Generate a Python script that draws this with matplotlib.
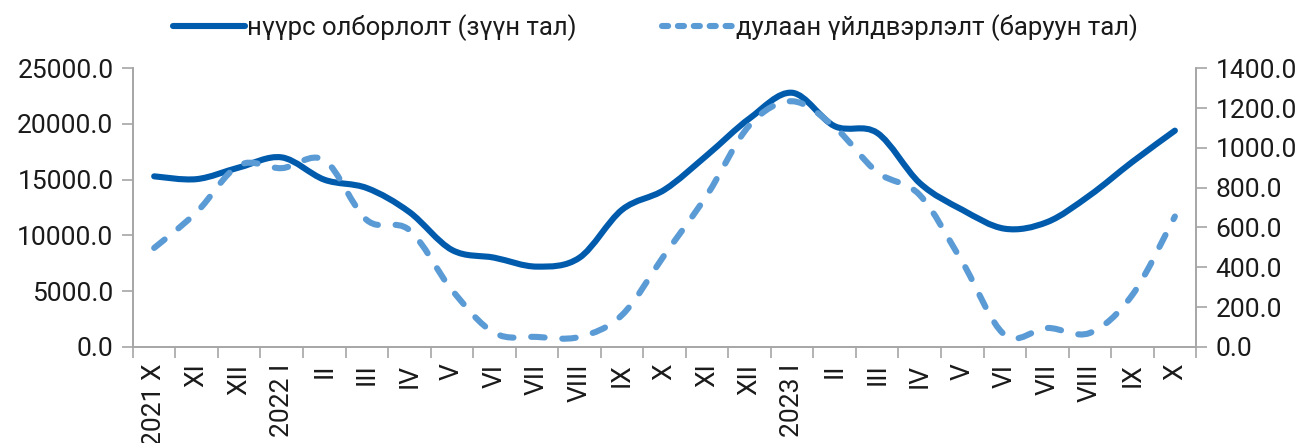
import matplotlib
matplotlib.use("Agg")
import matplotlib.pyplot as plt
import numpy as np
from matplotlib.path import Path
from matplotlib.patches import PathPatch
from matplotlib.lines import Line2D

plt.rcParams['font.family'] = ['Roboto', 'DejaVu Sans']

categories = ["2021 X", "XI", "XII", "2022 I", "II", "III", "IV", "V", "VI", "VII", "VIII",
              "IX", "X", "XI", "XII", "2023 I", "II", "III", "IV", "V", "VI", "VII", "VIII", "IX", "X"]
coal = [15300, 15050, 16100, 17000, 15000, 14250, 12100, 8700, 8000, 7200, 8000,
        12300, 14100, 17200, 20500, 22800, 19800, 19200, 14700, 12300, 10600, 11200, 13600, 16600, 19400]
heat = [497, 677, 913, 898, 938, 637, 587, 286, 70, 50, 50,
        160, 462, 763, 1114, 1234, 1104, 878, 763, 427, 60, 95, 70, 261, 655]
coal_label = "нүүрс олборлолт (зүүн тал)"
heat_label = "дулаан үйлдвэрлэлт (баруун тал)"

c_solid = "#005BAC"
c_dash = "#5B9BD5"
spine_c = "#A6A6A6"
txt_c = "#1a1a1a"
fs = 19
lw = 4.4


def smooth_path(x, y, t=1/6):
    x = np.asarray(x, float); y = np.asarray(y, float)
    verts = [(x[0], y[0])]
    codes = [Path.MOVETO]
    n = len(x)
    for i in range(n - 1):
        p0 = (x[i-1], y[i-1]) if i > 0 else (x[i], y[i])
        p1 = (x[i], y[i]); p2 = (x[i+1], y[i+1])
        p3 = (x[i+2], y[i+2]) if i + 2 < n else (x[i+1], y[i+1])
        c1 = (p1[0] + (p2[0]-p0[0])*t, p1[1] + (p2[1]-p0[1])*t)
        c2 = (p2[0] - (p3[0]-p1[0])*t, p2[1] - (p3[1]-p1[1])*t)
        verts += [c1, c2, p2]
        codes += [Path.CURVE4]*3
    return Path(verts, codes)


fig = plt.figure(figsize=(13.03, 4.43), dpi=100)
ax = fig.add_axes([0.102, 0.217, 0.816, 0.629])
ax2 = ax.twinx()

xs = np.arange(len(categories))
ax.add_patch(PathPatch(smooth_path(xs, coal), fill=False, edgecolor=c_solid, lw=lw,
                       capstyle='round', joinstyle='round'))
pp = PathPatch(smooth_path(xs, heat), fill=False, edgecolor=c_dash, lw=lw,
               linestyle=(0, (2.2, 2.9)), capstyle='round', joinstyle='round')
ax2.add_patch(pp)

ax.set_xlim(-0.5, len(categories) - 0.5)
ax.set_ylim(0, 25000)
ax2.set_ylim(0, 1400)
ax.set_yticks(np.arange(0, 25001, 5000))
ax.set_yticklabels([f"{v:.1f}" for v in np.arange(0, 25001, 5000)])
ax2.set_yticks(np.arange(0, 1401, 200))
ax2.set_yticklabels([f"{v:.1f}" for v in np.arange(0, 1401, 200)])

ax.set_xticks(xs)
ax.set_xticklabels(categories, rotation=90, va='top', ha='center')
ax.set_xticks(np.arange(-0.5, len(categories)), minor=True)
ax.tick_params(axis='x', which='major', length=0, labelsize=fs, pad=12, colors=txt_c)
ax.tick_params(axis='x', which='minor', length=8, color=spine_c, width=1.2)
ax.tick_params(axis='y', length=8, color=spine_c, width=1.2, labelsize=fs, pad=6, labelcolor=txt_c)
ax2.tick_params(axis='y', length=8, color=spine_c, width=1.2, labelsize=fs, pad=6, labelcolor=txt_c)

for a in (ax, ax2):
    a.spines['top'].set_visible(False)
    for s in ('left', 'right', 'bottom'):
        a.spines[s].set_color(spine_c)
        a.spines[s].set_linewidth(1.2)

handles = [Line2D([], [], color=c_solid, lw=lw, solid_capstyle='round'),
           Line2D([], [], color=c_dash, lw=lw, linestyle=(0, (1.0, 1.6)), dash_capstyle='round')]
fig.legend(handles, [coal_label, heat_label], loc='center', bbox_to_anchor=(0.503, 0.937),
           ncol=2, frameon=False, fontsize=18.5, handlelength=2.8, handletextpad=0.1,
           columnspacing=3.3, labelcolor=txt_c)

fig.savefig("out.png", dpi=100)
